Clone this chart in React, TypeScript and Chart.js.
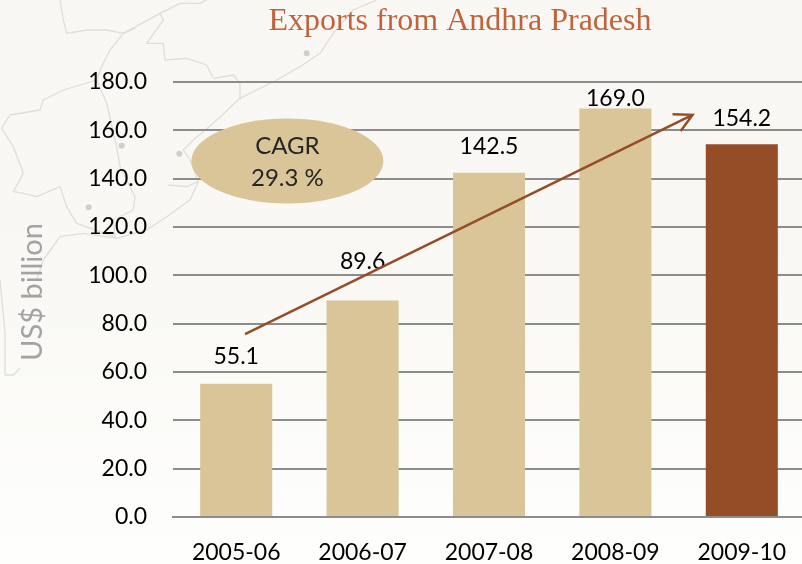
import React, { useEffect, useRef } from "react";
import { Chart, registerables } from "chart.js";

Chart.register(...registerables);

const categories = ["2005-06", "2006-07", "2007-08", "2008-09", "2009-10"];
const exportsValues = [55.1, 89.6, 142.5, 169.0, 154.2];
const barColors = ["#d9c597", "#d9c597", "#d9c597", "#d9c597", "#944d27"];
const labelHeights = [66.4, 105.8, 153.3, 173.3, 164.8];
const trendFrom = [0.07, 75.7];
const trendTo = [3.61, 166.4];
const cagrCentre = [0.405, 147.3];
const cagrLines = ["CAGR", "29.3 %"];
const chartTitle = "Exports from Andhra Pradesh";
const axisTitle = "US$ billion";

// Faint decorative map behind the chart (zoomed-reference pixels, 3x).
const mapPaths: number[][][] = [
  [[1130,0],[1060,30],[1000,100],[960,160],[900,200],[830,240],[720,295],[640,370],[580,420],[550,450],[570,480],[595,545],[570,600],[500,650],[440,690],[350,715],[250,700],[180,710],[130,780],[110,840]],
  [[180,0],[190,60],[200,100],[260,90],[320,90],[370,100],[405,85],[370,100],[330,150],[305,200],[290,240],[190,270],[130,300],[120,330],[30,345],[5,385],[40,440],[70,520],[40,575],[70,580],[110,590],[180,560],[200,620],[230,670],[340,710]],
  [[480,40],[490,60],[440,130],[490,130],[495,180],[560,175],[620,195],[640,235],[700,225],[720,250],[720,300]],
  [[290,240],[320,310],[350,440],[360,500],[405,590],[400,630],[340,660],[345,715]],
  [[370,100],[480,40],[540,10],[600,10],[620,0]],
  [[0,840],[15,1000],[15,1125],[40,1125],[60,1105]],
  [[505,555],[560,560],[595,545]],
];
const mapDots = [[920,160],[365,437],[538,461],[266,622]];

const decorations = {
  id: "decorations",
  beforeDraw(chart: any) {
    const { ctx, width, height } = chart;
    ctx.save();
    const bg = ctx.createLinearGradient(0, 0, 0, height);
    bg.addColorStop(0, "#f9f7f3");
    bg.addColorStop(0.5, "#f9f8f4");
    bg.addColorStop(1, "#fefefd");
    ctx.fillStyle = bg;
    ctx.fillRect(0, 0, width, height);
    ctx.strokeStyle = "#dfdeda";
    ctx.lineWidth = 1.3;
    ctx.lineJoin = "round";
    for (const path of mapPaths) {
      ctx.beginPath();
      path.forEach(([x, y], i) => (i ? ctx.lineTo(x / 3, y / 3) : ctx.moveTo(x / 3, y / 3)));
      ctx.stroke();
    }
    ctx.fillStyle = "#d0cfcb";
    for (const [x, y] of mapDots) {
      ctx.beginPath();
      ctx.arc(x / 3, y / 3, 3, 0, Math.PI * 2);
      ctx.fill();
    }
    ctx.restore();
  },
  afterDraw(chart: any) {
    const { ctx, scales } = chart;
    const { x, y } = scales;
    ctx.save();

    // title
    ctx.fillStyle = "#c0633a";
    ctx.font = '32px "Liberation Serif"';
    ctx.textAlign = "center";
    ctx.textBaseline = "middle";
    ctx.fillText(chartTitle, 460, 22);

    // axis title
    ctx.save();
    ctx.translate(33, 292);
    ctx.rotate(-Math.PI / 2);
    ctx.fillStyle = "#a3a3a3";
    ctx.font = '29px "Lato"';
    ctx.fillText(axisTitle, 0, 0);
    ctx.restore();

    // value labels
    ctx.fillStyle = "#000000";
    ctx.font = '23px "Lato"';
    exportsValues.forEach((v, i) => {
      ctx.fillText(v.toFixed(1), x.getPixelForValue(i), y.getPixelForValue(labelHeights[i]));
    });

    // trend arrow
    const x0 = x.getPixelForValue(trendFrom[0]);
    const y0 = y.getPixelForValue(trendFrom[1]);
    const x1 = x.getPixelForValue(trendTo[0]);
    const y1 = y.getPixelForValue(trendTo[1]);
    const a = Math.atan2(y1 - y0, x1 - x0);
    ctx.strokeStyle = "#944d27";
    ctx.lineWidth = 2.5;
    ctx.beginPath();
    ctx.moveTo(x0, y0);
    ctx.lineTo(x1, y1);
    ctx.moveTo(x1 + 20 * Math.cos(a + 2.66), y1 + 20 * Math.sin(a + 2.66));
    ctx.lineTo(x1, y1);
    ctx.lineTo(x1 + 20 * Math.cos(a - 2.66), y1 + 20 * Math.sin(a - 2.66));
    ctx.stroke();

    // CAGR ellipse
    const cx = x.getPixelForValue(cagrCentre[0]);
    const cy = y.getPixelForValue(cagrCentre[1]);
    ctx.fillStyle = "#d9c597";
    ctx.beginPath();
    ctx.ellipse(cx, cy, 96, 42.5, 0, 0, Math.PI * 2);
    ctx.fill();
    ctx.fillStyle = "#262626";
    ctx.font = '24px "Lato"';
    ctx.fillText(cagrLines[0], cx, cy - 15);
    ctx.fillText(cagrLines[1], cx, cy + 17);
    ctx.restore();
  },
};

export default function App() {
  const ref = useRef<HTMLCanvasElement>(null);
  useEffect(() => {
    document.body.style.margin = "0";
    document.body.style.overflow = "hidden";
    const chart = new Chart(ref.current!, {
      type: "bar",
      data: {
        labels: categories,
        datasets: [
          {
            label: "Exports (US$ billion)",
            data: exportsValues,
            backgroundColor: barColors,
            barPercentage: 0.57,
            categoryPercentage: 1,
          },
        ],
      },
      options: {
        responsive: false,
        animation: false,
        layout: { padding: { top: 82, left: 0, right: 0, bottom: 0 } },
        plugins: { legend: { display: false }, title: { display: false }, tooltip: { enabled: false } },
        scales: {
          x: {
            grid: { display: false },
            border: { color: "#8c8c8c", width: 2 },
            ticks: { color: "#000000", font: { family: "Lato", size: 23 }, padding: 14, maxRotation: 0 },
            afterFit(scale: any) {
              scale.height = 47;
            },
          },
          y: {
            min: 0,
            max: 180,
            grid: { color: "#8c8c8c", lineWidth: 2, drawTicks: false },
            border: { display: false },
            ticks: {
              stepSize: 20,
              color: "#000000",
              padding: 26,
              font: { family: "Lato", size: 23 },
              callback: (v: any) => Number(v).toFixed(1),
            },
            afterFit(scale: any) {
              scale.width = 173;
            },
          },
        },
      },
      plugins: [decorations],
    } as any);
    return () => chart.destroy();
  }, []);
  return (
    <div style={{ width: 802, height: 564, overflow: "hidden" }}>
      <canvas ref={ref} width={805} height={564} style={{ display: "block" }} />
    </div>
  );
}
